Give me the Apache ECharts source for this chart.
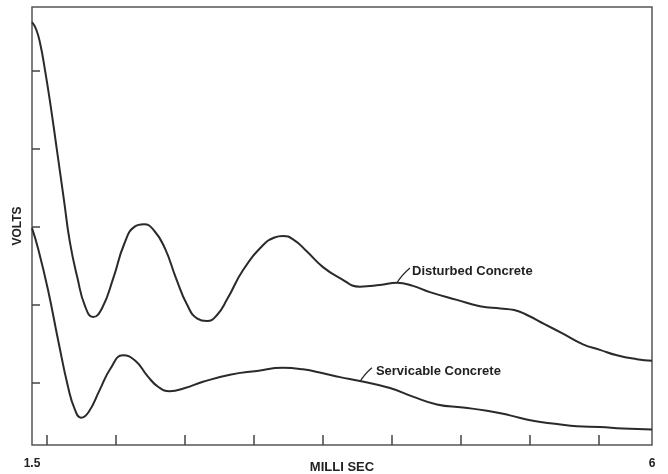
<!DOCTYPE html>
<html>
<head>
<meta charset="utf-8">
<script src="https://cdn.jsdelivr.net/npm/echarts@6/dist/echarts.min.js"></script>
<style>
html,body{margin:0;padding:0;background:#fff;}
#chart{width:668px;height:474px;}
</style>
</head>
<body>
<div id="chart"></div>
<script>
// Disturbed Concrete [milli sec, volts (arbitrary units)]
var disturbed = [
  [1.500,5.42],[1.530,5.33],[1.560,5.14],[1.595,4.80],[1.631,4.40],[1.681,3.78],[1.732,3.14],
  [1.775,2.60],[1.830,2.14],[1.885,1.78],[1.943,1.64],[2.010,1.76],[2.090,2.14],
  [2.170,2.58],[2.245,2.80],[2.313,2.83],[2.390,2.74],[2.465,2.52],[2.545,2.14],
  [2.625,1.80],[2.700,1.62],[2.770,1.59],[2.840,1.66],[2.920,1.88],[3.031,2.24],
  [3.176,2.56],[3.260,2.66],[3.321,2.68],[3.400,2.63],[3.490,2.49],[3.612,2.28],
  [3.735,2.14],[3.880,2.03],[4.025,2.05],[4.149,2.08],[4.265,2.04],[4.388,1.96],
  [4.584,1.86],[4.751,1.78],[4.900,1.75],[5.000,1.73],[5.100,1.66],[5.220,1.55],
  [5.350,1.43],[5.499,1.29],[5.622,1.22],[5.745,1.15],[5.890,1.10],[6.000,1.08]
];
// Servicable Concrete
var servicable = [
  [1.500,2.78],[1.544,2.52],[1.616,1.99],[1.689,1.35],[1.761,0.75],[1.810,0.46],
  [1.856,0.35],[1.910,0.42],[1.990,0.70],[2.070,0.98],[2.160,1.15],[2.250,1.08],
  [2.340,0.88],[2.420,0.74],[2.500,0.69],[2.610,0.73],[2.741,0.81],[2.937,0.90],
  [3.133,0.95],[3.321,0.99],[3.467,0.97],[3.612,0.92],[3.735,0.87],[3.880,0.82],
  [4.098,0.73],[4.265,0.62],[4.439,0.52],[4.628,0.48],[4.802,0.44],[4.969,0.38],
  [5.136,0.31],[5.310,0.27],[5.455,0.24],[5.622,0.23],[5.789,0.21],[6.000,0.20]
];
var xTicks = [1.61,2.11,2.61,3.11,3.61,4.11,4.61,5.11,5.61];
var xLabels = [1.5, 6];
var yTicks = [0.8,1.8,2.8,3.8,4.8];
var seriesNames = ['Disturbed Concrete','Servicable Concrete'];
// annotation anchors: text start, leader start, leader end (data coords)
var annDisturbed = {text:[4.258,2.22], from:[4.243,2.27], to:[4.149,2.08]};
var annServicable = {text:[3.996,0.94], from:[3.967,0.99], to:[3.880,0.81]};

var FONT = '"Liberation Sans", Arial, sans-serif';
var chart = echarts.init(document.getElementById('chart'));
var lineColor = '#2a2a2a';
chart.setOption({
  backgroundColor:'#ffffff',
  animation:false,
  grid:{left:32,top:7,right:16,bottom:29,containLabel:false,outerBoundsMode:'none',
    show:true,borderColor:'#555',borderWidth:1.5,backgroundColor:'transparent'},
  xAxis:{
    type:'value',min:1.5,max:6,
    name:'MILLI SEC',nameLocation:'middle',nameGap:16,nameMoveOverlap:false,
    nameTextStyle:{fontFamily:FONT,fontWeight:'bold',fontSize:13,color:'#222'},
    axisLine:{show:false},
    splitLine:{show:false},
    axisTick:{show:true,inside:true,length:10,customValues:xTicks,lineStyle:{color:'#444',width:1.5}},
    axisLabel:{show:true,customValues:xLabels,margin:13,fontFamily:FONT,fontWeight:'bold',fontSize:12,color:'#222',
      hideOverlap:false,showMinLabel:true,showMaxLabel:true,
      formatter:function(v){return String(v);}}
  },
  yAxis:{
    type:'value',min:0,max:5.615,
    name:'VOLTS',nameLocation:'middle',nameGap:8,nameMoveOverlap:false,
    nameTextStyle:{fontFamily:FONT,fontWeight:'bold',fontSize:12,color:'#222'},
    axisLine:{show:false},
    splitLine:{show:false},
    axisTick:{show:true,inside:true,length:8,customValues:yTicks,lineStyle:{color:'#444',width:1.5}},
    axisLabel:{show:false}
  },
  series:[
    {name:seriesNames[0],type:'line',data:disturbed,smooth:0.5,symbol:'none',lineStyle:{color:lineColor,width:2}},
    {name:seriesNames[1],type:'line',data:servicable,smooth:0.5,symbol:'none',lineStyle:{color:lineColor,width:2}}
  ]
});

function ann(a, label){
  var t = chart.convertToPixel({gridIndex:0}, a.text);
  var f = chart.convertToPixel({gridIndex:0}, a.from);
  var e = chart.convertToPixel({gridIndex:0}, a.to);
  var mid = [(f[0]+e[0])/2 - 2, (f[1]+e[1])/2];
  return [
    {type:'text',x:t[0],y:t[1],style:{text:label,fontFamily:FONT,fontWeight:'bold',fontSize:13,fill:'#222',verticalAlign:'middle',align:'left'}},
    {type:'bezierCurve',shape:{x1:f[0],y1:f[1],x2:e[0],y2:e[1],cpx1:mid[0],cpy1:mid[1]},style:{stroke:lineColor,lineWidth:1.3,fill:null}}
  ];
}
chart.setOption({graphic:ann(annDisturbed,seriesNames[0]).concat(ann(annServicable,seriesNames[1]))});
</script>
</body>
</html>
